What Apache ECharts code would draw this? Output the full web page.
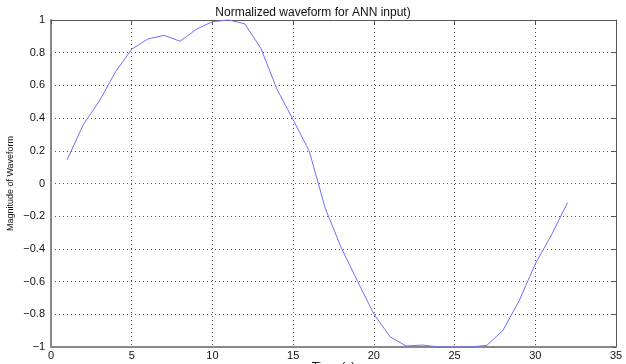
<!DOCTYPE html>
<html>
<head>
<meta charset="utf-8">
<script src="https://cdn.jsdelivr.net/npm/echarts@6/dist/echarts.min.js"></script>
<style>
  html, body { margin: 0; padding: 0; background: #fff; }
  #chart { width: 626px; height: 364px; }
</style>
</head>
<body>
<div id="chart"></div>
<script>
// Sample index (time step) and normalized waveform magnitude
const timeSteps = [1, 2, 3, 4, 5, 6, 7, 8, 9, 10, 11, 12, 13, 14, 15, 16,
                   17, 18, 19, 20, 21, 22, 23, 24, 25, 26, 27, 28, 29, 30, 31, 32];
const magnitude = [0.145, 0.36, 0.505, 0.684, 0.821, 0.884, 0.906, 0.87, 0.943, 0.99, 1.0, 0.977,
                   0.827, 0.576, 0.39, 0.197, -0.155, -0.397, -0.6, -0.798, -0.937, -0.994,
                   -0.988, -1.0, -1.0, -1.0, -0.99, -0.898, -0.717, -0.492, -0.315, -0.117];
const xTicks = [0, 5, 10, 15, 20, 25, 30, 35];
const yTicks = [-1, -0.8, -0.6, -0.4, -0.2, 0, 0.2, 0.4, 0.6, 0.8, 1];

const font = 'Liberation Sans, Arial, sans-serif';
const dotted = { type: [1, 3], color: '#555', width: 1 };

const chart = echarts.init(document.getElementById('chart'), null, { renderer: 'canvas' });

chart.setOption({
  animation: false,
  backgroundColor: '#fff',
  title: {
    text: 'Normalized waveform for ANN input)',
    left: 'center',
    top: 2,
    textStyle: { fontFamily: font, fontSize: 12, fontWeight: 'normal', color: '#111' }
  },
  grid: { left: 51, right: 10, top: 20, bottom: 17, containLabel: false, outerBoundsMode: 'none' },
  xAxis: [
    {
      type: 'value',
      min: xTicks[0], max: xTicks[xTicks.length - 1], interval: 5,
      name: 'Time (s)',
      nameLocation: 'middle',
      nameGap: 15,
      nameMoveOverlap: false,
      nameTextStyle: { fontFamily: font, fontSize: 12, color: '#111' },
      axisLine: { onZero: false, lineStyle: { color: '#888', width: 2 } },
      axisTick: { show: false },
      axisLabel: { fontFamily: font, fontSize: 11, color: '#111', margin: 3 },
      splitLine: { show: true, lineStyle: dotted }
    },
    {
      type: 'value', position: 'top',
      min: xTicks[0], max: xTicks[xTicks.length - 1], interval: 5,
      axisLine: { show: true, onZero: false, lineStyle: { color: '#555', width: 1 } },
      axisTick: { show: true, inside: true, length: 4, lineStyle: { color: '#555' } },
      axisLabel: { show: false },
      splitLine: { show: false }
    }
  ],
  yAxis: [
    {
      type: 'value',
      min: yTicks[0], max: yTicks[yTicks.length - 1], interval: 0.2,
      name: 'Magnitude of Waveform',
      nameLocation: 'middle',
      nameGap: 36,
      nameMoveOverlap: false,
      nameTextStyle: { fontFamily: font, fontSize: 9, color: '#111' },
      axisLine: { onZero: false, lineStyle: { color: '#888', width: 2 } },
      axisTick: { show: false },
      axisLabel: {
        fontFamily: font, fontSize: 11, color: '#111', margin: 6,
        formatter: v => (Math.abs(v) < 1e-9 ? '0' : String(+v.toFixed(1)).replace('-', '\u2212'))
      },
      splitLine: { show: true, lineStyle: dotted }
    },
    {
      type: 'value', position: 'right',
      min: yTicks[0], max: yTicks[yTicks.length - 1], interval: 0.2,
      axisLine: { show: true, onZero: false, lineStyle: { color: '#555', width: 1 } },
      axisTick: { show: true, inside: true, length: 4, lineStyle: { color: '#555' } },
      axisLabel: { show: false },
      splitLine: { show: false }
    }
  ],
  series: [{
    type: 'line',
    data: timeSteps.map((t, i) => [t, magnitude[i]]),
    showSymbol: false,
    lineStyle: { color: '#6f6fff', width: 1 },
    clip: false
  }]
});
</script>
</body>
</html>
